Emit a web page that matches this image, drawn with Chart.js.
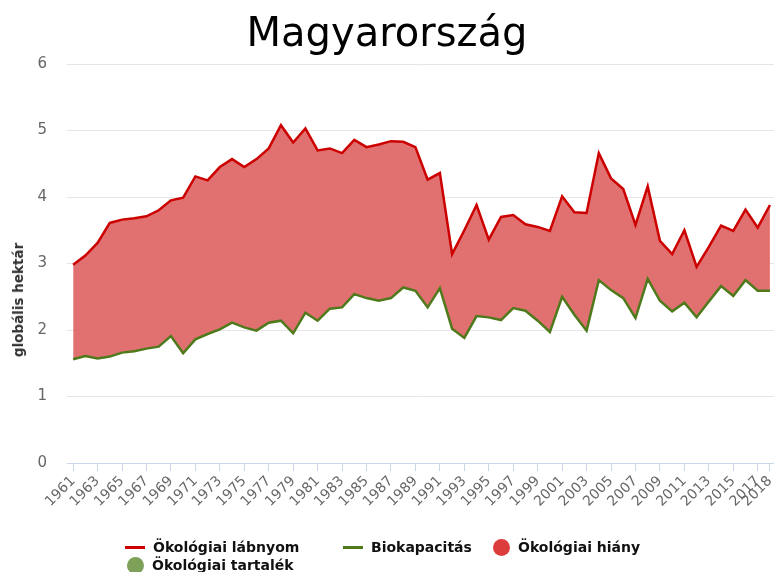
<!DOCTYPE html>
<html lang="hu">
<head>
<meta charset="utf-8">
<title>Magyarország</title>
<script src="https://cdn.jsdelivr.net/npm/chart.js@4"></script>
<style>
  body { margin: 0; background: #fff; }
  #wrap { position: relative; width: 774px; height: 572px; font-family: "DejaVu Sans", Verdana, sans-serif; }
  #ytitle {
    position: absolute; left: 18px; top: 300px;
    transform: translate(-50%, -50%) rotate(-90deg);
    font-weight: bold; font-size: 13.5px; color: #333; white-space: nowrap;
  }
  .leg { position: absolute; font-weight: bold; font-size: 14px; color: #111; white-space: nowrap; line-height: 18px; }
  .leg .line { display: inline-block; width: 20px; height: 3px; vertical-align: middle; margin-right: 8px; position: relative; top: -1px; }
  .leg .dot { display: inline-block; width: 17px; height: 17px; border-radius: 50%; vertical-align: middle; margin-right: 8px; position: relative; top: -1px; }
</style>
</head>
<body>
<div id="wrap">
  <canvas id="chart" width="774" height="572"></canvas>
  <div id="ytitle">globális hektár</div>
  <div class="leg" style="left:125px; top:538px;"><span class="line" style="background:#cc0000"></span>Ökológiai lábnyom</div>
  <div class="leg" style="left:343px; top:538px;"><span class="line" style="background:#4f7a1c"></span>Biokapacitás</div>
  <div class="leg" style="left:493px; top:538px;"><span class="dot" style="background:#dc3c3c"></span>Ökológiai hiány</div>
  <div class="leg" style="left:127px; top:556px;"><span class="dot" style="background:#7ea15a"></span>Ökológiai tartalék</div>
</div>
<script>
// Years on the x axis
const years = [1961, 1962, 1963, 1964, 1965, 1966, 1967, 1968, 1969, 1970,
  1971, 1972, 1973, 1974, 1975, 1976, 1977, 1978, 1979, 1980,
  1981, 1982, 1983, 1984, 1985, 1986, 1987, 1988, 1989, 1990,
  1991, 1992, 1993, 1994, 1995, 1996, 1997, 1998, 1999, 2000,
  2001, 2002, 2003, 2004, 2005, 2006, 2007, 2008, 2009, 2010,
  2011, 2012, 2013, 2014, 2015, 2016, 2017, 2018];

// Ecological footprint (global hectares per person)
const footprint = [2.98, 3.12, 3.31, 3.61, 3.66, 3.68, 3.71, 3.80, 3.95, 3.99,
  4.31, 4.25, 4.45, 4.57, 4.45, 4.57, 4.73, 5.08, 4.82, 5.03,
  4.70, 4.73, 4.66, 4.86, 4.75, 4.79, 4.84, 4.83, 4.75, 4.26,
  4.36, 3.14, 3.50, 3.88, 3.36, 3.70, 3.73, 3.59, 3.55, 3.49,
  4.01, 3.77, 3.76, 4.66, 4.28, 4.12, 3.58, 4.16, 3.34, 3.14,
  3.50, 2.95, 3.25, 3.57, 3.49, 3.81, 3.54, 3.88];

// Biocapacity (global hectares per person)
const biocapacity = [1.56, 1.61, 1.57, 1.60, 1.66, 1.68, 1.72, 1.75, 1.91, 1.65,
  1.86, 1.94, 2.01, 2.11, 2.04, 1.99, 2.11, 2.14, 1.95, 2.26,
  2.14, 2.32, 2.34, 2.54, 2.48, 2.44, 2.48, 2.64, 2.59, 2.34,
  2.63, 2.02, 1.88, 2.21, 2.19, 2.15, 2.33, 2.29, 2.14, 1.97,
  2.50, 2.23, 1.99, 2.75, 2.60, 2.48, 2.18, 2.77, 2.44, 2.28,
  2.41, 2.19, 2.43, 2.66, 2.51, 2.75, 2.59, 2.59];

// Labelled years under the x axis
const tickYears = [1961, 1963, 1965, 1967, 1969, 1971, 1973, 1975, 1977, 1979,
  1981, 1983, 1985, 1987, 1989, 1991, 1993, 1995, 1997, 1999,
  2001, 2003, 2005, 2007, 2009, 2011, 2013, 2015, 2017, 2018];

const yTicks = [0, 1, 2, 3, 4, 5, 6];

const ctx = document.getElementById('chart').getContext('2d');

new Chart(ctx, {
  type: 'line',
  data: {
    datasets: [
      {
        label: 'Ökológiai lábnyom',
        data: years.map((y, i) => ({ x: y, y: footprint[i] })),
        borderColor: '#cc0000',
        borderWidth: 2.5,
        pointRadius: 0,
        tension: 0,
        fill: { target: 1, above: 'rgba(222, 96, 96, 0.9)', below: 'rgba(126, 161, 90, 0.9)' },
        order: 1
      },
      {
        label: 'Biokapacitás',
        data: years.map((y, i) => ({ x: y, y: biocapacity[i] })),
        borderColor: '#4f7a1c',
        borderWidth: 2.5,
        pointRadius: 0,
        tension: 0,
        fill: false,
        order: 0
      }
    ]
  },
  options: {
    responsive: false,
    animation: false,
    devicePixelRatio: 1,
    layout: { padding: 0 },
    plugins: {
      legend: { display: false },
      tooltip: { enabled: false },
      title: {
        display: true,
        text: 'Magyarország',
        color: '#000',
        font: { family: 'DejaVu Sans', size: 40, weight: 'normal' },
        padding: { top: 12, bottom: 4 }
      }
    },
    scales: {
      x: {
        type: 'linear',
        min: 1960.5,
        max: 2018.33,
        afterBuildTicks: s => { s.ticks = tickYears.map(v => ({ value: v })); },
        afterFit: s => { s.height = 109; s.paddingLeft = 0; s.paddingRight = 0; },
        ticks: {
          autoSkip: false,
          minRotation: 45,
          maxRotation: 45,
          color: '#666',
          font: { family: 'DejaVu Sans', size: 14 },
          padding: 2,
          callback: v => String(v)
        },
        grid: { drawOnChartArea: false, drawTicks: true, tickLength: 8, color: '#ccd6eb' },
        border: { color: '#ccd6eb', width: 1 }
      },
      y: {
        min: 0,
        max: 6,
        afterBuildTicks: s => { s.ticks = yTicks.map(v => ({ value: v })); },
        afterFit: s => { s.width = 67; },
        ticks: {
          color: '#666',
          font: { family: 'DejaVu Sans', size: 15 },
          padding: 20
        },
        grid: { color: '#e6e6e6', drawTicks: false },
        border: { display: false }
      }
    }
  }
});
</script>
</body>
</html>
